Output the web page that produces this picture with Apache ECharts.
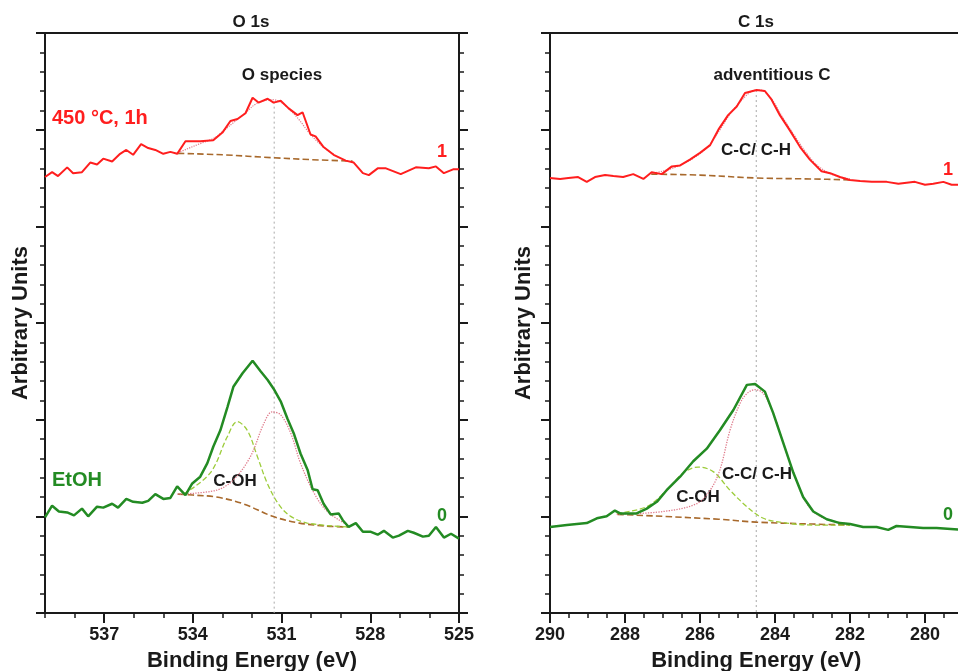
<!DOCTYPE html>
<html>
<head>
    <meta charset="utf-8">
    <title>XPS O 1s / C 1s</title>
    <style>
        html, body {margin: 0; padding: 0; background: #fff; overflow: hidden;}
        #chart {width: 958px; height: 671px;}
    </style>
</head>
<body>
<div id="chart"></div>
<script src="https://cdn.jsdelivr.net/npm/echarts@6/dist/echarts.min.js"></script>
<script>
    // O 1s, 450 °C 1h  [binding energy eV, intensity]
    var o1s450 = [[539.00,4.51],[538.76,4.56],[538.56,4.52],[538.25,4.61],[538.05,4.55],[537.75,4.56],[537.47,4.66],[537.24,4.64],[537.03,4.70],[536.73,4.67],[536.46,4.75],[536.25,4.79],[536.02,4.74],[535.75,4.85],[535.51,4.81],[535.27,4.79],[535.00,4.75],[534.76,4.77],[534.53,4.75],[534.25,4.88],[533.75,4.88],[533.31,4.89],[533.00,4.97],[532.73,5.09],[532.49,5.11],[532.22,5.17],[531.98,5.33],[531.78,5.28],[531.47,5.32],[531.27,5.28],[531.03,5.30],[530.76,5.22],[530.46,5.15],[530.29,5.18],[530.02,4.95],[529.85,4.93],[529.58,4.82],[529.24,4.74],[528.83,4.68],[528.56,4.66],[528.25,4.55],[528.05,4.53],[527.75,4.60],[527.47,4.60],[526.97,4.54],[526.46,4.61],[526.02,4.60],[525.78,4.62],[525.51,4.55],[525.20,4.59],[525.00,4.59]];
    var o1s450Bg = [[534.5,4.755],[533,4.74],[531.3,4.71],[530,4.69],[528.6,4.675]];
    var o1s450Fit = [[534.5,4.76],[534.2,4.80],[533.8,4.85],[533.3,4.91],[533.0,4.98],[532.6,5.08],[532.2,5.18],[531.9,5.26],[531.6,5.30],[531.3,5.31],[531.0,5.28],[530.7,5.20],[530.4,5.10],[530.1,4.98],[529.8,4.88],[529.5,4.80],[529.2,4.74]];

    // O 1s, EtOH
    var o1sEtOH = [[539.00,0.99],[538.76,1.11],[538.53,1.05],[538.25,1.04],[538.02,1.01],[537.75,1.08],[537.54,1.00],[537.24,1.10],[537.03,1.09],[536.73,1.13],[536.53,1.09],[536.25,1.18],[536.02,1.15],[535.71,1.14],[535.51,1.16],[535.27,1.23],[535.00,1.18],[534.76,1.19],[534.53,1.31],[534.25,1.22],[534.02,1.34],[533.75,1.41],[533.51,1.55],[533.31,1.72],[533.07,1.89],[532.83,2.13],[532.63,2.34],[532.32,2.48],[531.98,2.61],[531.71,2.50],[531.47,2.41],[531.27,2.32],[531.03,2.19],[530.80,2.01],[530.59,1.86],[530.36,1.65],[530.12,1.48],[529.95,1.28],[529.78,1.27],[529.58,1.13],[529.34,1.02],[529.07,1.03],[528.93,0.96],[528.73,0.89],[528.49,0.93],[528.25,0.84],[527.98,0.84],[527.75,0.81],[527.54,0.85],[527.24,0.78],[527.03,0.80],[526.73,0.85],[526.53,0.83],[526.22,0.79],[526.02,0.80],[525.78,0.89],[525.51,0.78],[525.27,0.82],[525.00,0.77]];
    var o1sEtOHBg = [[534.5,1.23],[534.0,1.22],[533.2,1.20],[532.3,1.13],[531.3,1.00],[530.4,0.93],[529.5,0.90],[528.75,0.89]];
    var o1sEtOHCOH = [[534.31,1.23],[533.41,1.45],[532.84,1.82],[532.5,1.98],[532.16,1.89],[531.82,1.62],[531.48,1.34],[531.09,1.12],[530.69,1.00],[530.13,0.93],[528.77,0.89]];
    var o1sEtOHO = [[534.53,1.23],[533.2,1.27],[532.62,1.38],[532.05,1.62],[531.6,1.96],[531.32,2.08],[531.03,2.05],[530.69,1.86],[530.36,1.55],[529.9,1.24],[529.45,1.05],[528.77,0.91]];
    var o1sPeak = [[531.25,5.29],[531.25,0]];

    // C 1s, 450 °C 1h
    var c1s450 = [[290.00,4.50],[289.73,4.49],[289.51,4.50],[289.25,4.51],[289.02,4.46],[288.80,4.51],[288.53,4.53],[288.31,4.52],[288.05,4.51],[287.78,4.54],[287.51,4.49],[287.29,4.56],[287.02,4.54],[286.75,4.62],[286.53,4.63],[286.27,4.69],[286.00,4.76],[285.73,4.84],[285.51,5.00],[285.25,5.15],[285.02,5.24],[284.80,5.38],[284.49,5.41],[284.27,5.40],[284.09,5.31],[283.87,5.15],[283.60,4.99],[283.33,4.82],[283.07,4.69],[282.76,4.57],[282.53,4.55],[282.27,4.51],[282.00,4.48],[281.73,4.47],[281.42,4.46],[281.02,4.46],[280.71,4.44],[280.27,4.46],[280.00,4.43],[279.78,4.44],[279.51,4.46],[279.29,4.43],[279.00,4.43]];
    var c1s450Bg = [[287.3,4.54],[286.0,4.53],[284.5,4.50],[283.0,4.49],[282.0,4.48]];
    var c1s450Fit = [[287.3,4.55],[287.0,4.57],[286.6,4.62],[286.2,4.70],[285.8,4.82],[285.5,4.98],[285.2,5.16],[284.9,5.30],[284.6,5.40],[284.4,5.41],[284.1,5.32],[283.8,5.13],[283.5,4.95],[283.2,4.78],[282.9,4.64],[282.5,4.54],[282.0,4.49]];

    // C 1s, EtOH
    var c1sEtOH = [[290.00,0.89],[289.55,0.91],[289.02,0.93],[288.75,0.98],[288.49,1.00],[288.27,1.06],[288.13,1.03],[287.91,1.03],[287.69,1.03],[287.42,1.08],[287.15,1.15],[286.89,1.27],[286.53,1.41],[286.18,1.57],[285.82,1.70],[285.47,1.89],[285.11,2.10],[284.75,2.36],[284.53,2.37],[284.27,2.29],[284.05,2.07],[283.78,1.76],[283.51,1.45],[283.25,1.20],[282.98,1.05],[282.62,0.97],[282.27,0.93],[282.00,0.92],[281.65,0.89],[281.29,0.89],[280.98,0.86],[280.76,0.90],[280.40,0.89],[280.05,0.88],[279.69,0.88],[279.00,0.86]];
    var c1sEtOHBg = [[288.2,1.02],[287.0,1.00],[285.5,0.97],[284.5,0.94],[283.0,0.92],[282.0,0.91]];
    var c1sEtOHCOH = [[288.22,1.03],[287.42,1.10],[286.89,1.27],[286.44,1.45],[286.05,1.51],[285.64,1.46],[285.2,1.27],[284.75,1.10],[284.31,0.98],[283.69,0.93],[282.98,0.91],[282.0,0.91]];
    var c1sEtOHCC = [[288.22,1.02],[286.98,1.05],[286.09,1.13],[285.73,1.27],[285.47,1.48],[285.2,1.89],[284.93,2.17],[284.75,2.27],[284.53,2.31],[284.31,2.27],[284.05,2.07],[283.78,1.76],[283.51,1.45],[283.25,1.20],[282.98,1.05],[282.62,0.97],[282.0,0.92]];
    var c1sPeak = [[284.5,5.41],[284.5,0]];

    // tick labels
    var o1sTicks = [537, 534, 531, 528, 525];
    var c1sTicks = [290, 288, 286, 284, 282, 280];

    var myChart = echarts.init(document.getElementById('chart'), null, {renderer: 'canvas'});

    var ink = '#1a1a1a';
    var red = '#ff1e1e';
    var green = '#238b23';
    var font = '"Liberation Sans", Arial, sans-serif';

    function mainX(grid, min, max, ticks) {
        return {
            type: 'value', gridIndex: grid, position: 'bottom', min: min, max: max, inverse: true,
            axisLine: {show: true, onZero: false, lineStyle: {color: ink, width: 2}},
            axisTick: {show: true, customValues: ticks, length: 10, lineStyle: {color: ink, width: 2}},
            axisLabel: {show: true, customValues: ticks, margin: 13, fontSize: 18, fontWeight: 'bold', color: ink, fontFamily: font},
            splitLine: {show: false},
            name: 'Binding Energy (eV)', nameLocation: 'middle', nameGap: 37,
            nameTextStyle: {fontSize: 22, fontWeight: 'bold', color: ink, fontFamily: font}
        };
    }

    function minorX(grid, min, max, step) {
        return {
            type: 'value', gridIndex: grid, position: 'bottom', min: min, max: max, interval: step, inverse: true,
            axisLine: {show: false},
            axisTick: {show: true, length: 5, lineStyle: {color: ink, width: 1.5}},
            axisLabel: {show: false},
            splitLine: {show: false}
        };
    }

    function yAx(grid, pos, title, gap) {
        var ax = {
            type: 'value', gridIndex: grid, position: pos, min: 0, max: 6, interval: 1,
            axisLine: {show: true, onZero: false, lineStyle: {color: ink, width: 2}},
            axisTick: {show: true, length: 9, lineStyle: {color: ink, width: 2}},
            minorTick: {show: true, splitNumber: 5, length: 5, lineStyle: {color: ink, width: 1.5}},
            axisLabel: {show: false},
            splitLine: {show: false},
            minorSplitLine: {show: false}
        };
        if (title) {
            ax.name = title;
            ax.nameLocation = 'middle';
            ax.nameGap = gap;
            ax.nameTextStyle = {fontSize: 22, fontWeight: 'bold', color: ink, fontFamily: font};
        }
        return ax;
    }

    function line(xi, yi, data, color, width, type, smooth, z) {
        return {
            type: 'line', xAxisIndex: xi, yAxisIndex: yi, data: data,
            symbol: 'none', smooth: smooth ? 0.35 : false, silent: true, z: z || 2,
            lineStyle: {color: color, width: width, type: type || 'solid'}
        };
    }

    function txt(x, y, s, color, size, align) {
        return {
            type: 'text', x: x, y: y, silent: true,
            style: {
                text: s, fill: color, font: 'bold ' + size + 'px ' + font,
                textAlign: align || 'center', align: align || 'center',
                textVerticalAlign: 'middle', verticalAlign: 'middle'
            }
        };
    }

    var brown = '#a8692c';
    var lime = '#9ccc3a';
    var pink = '#df7b8b';
    var grey = '#a8a8a8';

    var option = {
        animation: false,
        backgroundColor: '#fff',
        textStyle: {fontFamily: font},
        grid: [
            {left: 45, top: 33, width: 414, height: 580, show: true, borderColor: ink, borderWidth: 2, outerBoundsMode: 'none'},
            {left: 550, top: 33, width: 412.5, height: 580, show: true, borderColor: ink, borderWidth: 2, outerBoundsMode: 'none'}
        ],
        xAxis: [
            mainX(0, 525, 539, o1sTicks),
            minorX(0, 525, 539, 1),
            mainX(1, 279, 290, c1sTicks),
            minorX(1, 279, 290, 0.5)
        ],
        yAxis: [
            yAx(0, 'left', 'Arbitrary Units', 13),
            yAx(0, 'right'),
            yAx(1, 'left', 'Arbitrary Units', 15),
            yAx(1, 'right')
        ],
        series: [
            line(0, 0, o1sPeak, grey, 1, [2, 3]),
            line(0, 0, o1s450Bg, brown, 1.6, 'dashed', true),
            line(0, 0, o1s450Fit, pink, 1.2, 'dotted', true),
            line(0, 0, o1s450, red, 2, 'solid', false, 3),
            line(0, 0, o1sEtOHBg, brown, 1.6, 'dashed', true),
            line(0, 0, o1sEtOHCOH, lime, 1.3, 'dashed', true),
            line(0, 0, o1sEtOHO, pink, 1.3, 'dotted', true),
            line(0, 0, o1sEtOH, green, 2.5, 'solid', false, 3),

            line(2, 2, c1sPeak, grey, 1, [2, 3]),
            line(2, 2, c1s450Bg, brown, 1.6, 'dashed', true),
            line(2, 2, c1s450Fit, pink, 1.2, 'dotted', true),
            line(2, 2, c1s450, red, 2, 'solid', false, 3),
            line(2, 2, c1sEtOHBg, brown, 1.6, 'dashed', true),
            line(2, 2, c1sEtOHCOH, lime, 1.3, 'dashed', true),
            line(2, 2, c1sEtOHCC, pink, 1.3, 'dotted', true),
            line(2, 2, c1sEtOH, green, 2.5, 'solid', false, 3)
        ],
        graphic: [
            txt(251, 22, 'O 1s', ink, 17),
            txt(282, 75, 'O species', ink, 17),
            txt(52, 118, '450 °C, 1h', red, 20, 'left'),
            txt(442, 152, '1', red, 18),
            txt(52, 480, 'EtOH', green, 20, 'left'),
            txt(442, 516, '0', green, 18),
            txt(235, 481, 'C-OH', ink, 17),

            txt(756, 22, 'C 1s', ink, 17),
            txt(772, 75, 'adventitious C', ink, 17),
            txt(756, 150, 'C-C/ C-H', ink, 17),
            txt(948, 170, '1', red, 18),
            txt(698, 497, 'C-OH', ink, 17),
            txt(757, 474, 'C-C/ C-H', ink, 17),
            txt(948, 515, '0', green, 18)
        ]
    };

    myChart.setOption(option);
</script>
</body>
</html>
